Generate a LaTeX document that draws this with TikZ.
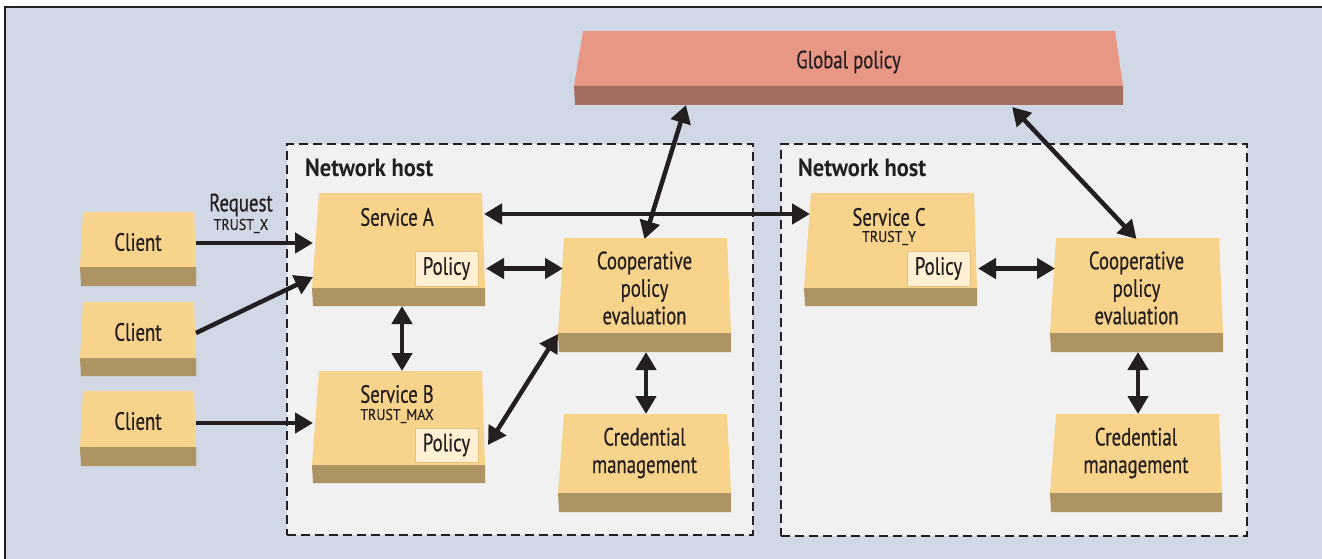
\documentclass[tikz,border=0pt]{standalone}
\usepackage{fontspec}
\setmainfont{PT Sans}[FakeStretch=0.75, FakeBold=0.5, BoldFeatures={FakeStretch=0.9, FakeBold=0}]
\newfontfamily\smallfont{PT Sans}[FakeStretch=0.9, FakeBold=0.3]
\usetikzlibrary{arrows.meta,calc}
\definecolor{bg}{HTML}{D0D8E5}
\definecolor{hostfill}{HTML}{F1F1F1}
\definecolor{tanface}{HTML}{F8D38B}
\definecolor{tanstrip}{HTML}{AD9462}
\definecolor{redface}{HTML}{E99785}
\definecolor{redstrip}{HTML}{A46E60}
\definecolor{polfill}{HTML}{FFEFD3}
\definecolor{poldraw}{HTML}{E2C283}
\definecolor{ink}{HTML}{231F20}
\tikzset{
  tanfaceS/.style={fill=tanface},
  tanstripS/.style={fill=tanstrip},
  redfaceS/.style={fill=redface},
  redstripS/.style={fill=redstrip},
  frame node/.style={inner sep=0pt, outer sep=0pt, draw=none, rectangle},
  hostbox/.style={draw=ink, fill=hostfill, line width=2pt, dash pattern=on 9pt off 5pt, inner sep=0pt, outer sep=0pt},
  lbl/.style={text=ink, inner sep=0pt, font=\fontsize{25}{27.5}\selectfont, align=center},
  small/.style={text=ink, inner sep=0pt, font=\smallfont\fontsize{15.5}{17}\selectfont},
  hostlbl/.style={text=ink, inner sep=0pt, font=\bfseries\fontsize{25}{27}\selectfont, anchor=west},
  polbox/.style={fill=polfill, draw=poldraw, line width=1pt, inner sep=0pt, outer sep=0pt, text=ink, font=\fontsize{25}{27}\selectfont},
  arr/.style={draw=ink, line width=4.5pt, -{Triangle[length=18pt,width=20pt]}},
  darr/.style={draw=ink, line width=4.5pt, {Triangle[length=18pt,width=20pt]}-{Triangle[length=18pt,width=20pt]}},
}
\newcommand\blockbox[9]{%
  \fill[#9faceS] ({#2+#7},#4) -- ({#3-#8},#4) -- (#3,#5) -- (#2,#5) -- cycle;
  \fill[#9stripS] (#2,#5) -- (#3,#5) -- (#3,#6) -- ({#2+1},#6) -- cycle;
  \node[frame node, minimum width={#3-#2}, minimum height={#6-#4}] (#1) at ({(#2+#3)/2},{(#4+#6)/2}) {};
}
\begin{document}
\begin{tikzpicture}[x=1pt,y=-1pt]
\useasboundingbox (0,0) rectangle (1322,559);
\fill[white] (0,0) rectangle (1322,559);
\fill[bg] (6,8) rectangle (1322,559);
\draw[ink, line width=2pt] (5,559) -- (5,7) -- (1322,7);

% network hosts
\node[hostbox, minimum width=466, minimum height=391] (h1) at (520,339.5) {};
\node[hostbox, minimum width=466, minimum height=392] (h2) at (1013.5,340) {};
\node[hostlbl] (h1l) at (305,168) {Network host};
\node[hostlbl] (h2l) at (798,168) {Network host};

% global policy
\blockbox{gp}{574}{1123}{31}{86}{105}{9}{8}{red}
\node[lbl] (gpt) at (848.5,62) {Global policy};

% clients
\blockbox{c1}{80}{196}{212}{267}{286}{3}{2}{tan}
\blockbox{c2}{80}{196}{302}{358}{376}{3}{2}{tan}
\blockbox{c3}{80}{196}{391}{447}{466}{3}{2}{tan}
\node[lbl] (c1t) at (138,242) {Client};
\node[lbl] (c2t) at (138,332) {Client};
\node[lbl] (c3t) at (138,421) {Client};

% services
\blockbox{sa}{312}{485}{193}{288}{306}{7}{3}{tan}
\blockbox{sb}{312}{485}{371}{465}{483}{7}{3}{tan}
\blockbox{sc}{804}{977}{193}{288}{306}{7}{3}{tan}
\node[lbl] (sat) at (397,217) {Service A};
\node[lbl] (sbt) at (397,394) {Service B};
\node[small] (sbs) at (397,416) {TRUST\_MAX};
\node[lbl] (sct) at (889,217) {Service C};
\node[small] (scs) at (889,238) {TRUST\_Y};

\node[polbox, minimum width=63, minimum height=35] (pa) at (446.5,268.5) {Policy};
\node[polbox, minimum width=63, minimum height=34] (pb) at (446.5,445) {Policy};
\node[polbox, minimum width=63, minimum height=35] (pc) at (938.5,268.5) {Policy};

% cooperative & credential
\blockbox{ca}{558}{731}{238}{333}{352}{6}{4}{tan}
\blockbox{cc}{1050}{1223}{238}{333}{352}{6}{4}{tan}
\blockbox{cra}{558}{731}{414}{493}{512}{6}{4}{tan}
\blockbox{crc}{1050}{1222}{414}{493}{512}{6}{3}{tan}
\node[lbl] (cat) at (644.5,288) {Cooperative\\policy\\evaluation};
\node[lbl] (cct) at (1136.5,288) {Cooperative\\policy\\evaluation};
\node[lbl] (crat) at (644.5,453) {Credential\\management};
\node[lbl] (crct) at (1136,453) {Credential\\management};

% request label
\node[lbl] (req) at (241,205) {Request};
\node[small] (reqs) at (241,226) {TRUST\_X};

% connectors
\draw[arr] ([yshift=6pt]c1.east) -- ([yshift=6pt,xshift=1pt]c1.east -| sa.west);
\draw[arr] ([yshift=6pt]c2.east) -- ([yshift=-27.5pt,xshift=1pt]sa.west);
\draw[arr] ([yshift=5.5pt]c3.east) -- ([yshift=5.5pt,xshift=1pt]c3.east -| sb.west);
\draw[darr] ([yshift=35.5pt,xshift=-1pt]sa.east) -- ([yshift=35.5pt,xshift=6pt]sa.east -| sc.west);
\draw[darr] ($(gp.south west)!0.204!(gp.south east)$) -- ([yshift=-1pt]ca.north);
\draw[darr] ([yshift=-2pt]$(gp.south west)!0.798!(gp.south east)$) -- ([yshift=-1pt]cc.north);
\draw[darr] ([xshift=8pt]pa.east) -- ([xshift=5pt]pa.east -| ca.west);
\draw[darr] ([xshift=3.5pt]sa.south) -- ([xshift=3.5pt]sb.north);
\draw[darr] ([yshift=18pt]ca.south west) -- ([xshift=10pt]pb.east);
\draw[darr] ([xshift=1.5pt]ca.south) -- ([xshift=1.5pt]cra.north);
\draw[darr] ([xshift=8pt]pc.east) -- ([xshift=5pt]pc.east -| cc.west);
\draw[darr] ([xshift=1.5pt]cc.south) -- ([xshift=1.5pt]cc.south |- crc.north);
\end{tikzpicture}
\end{document}
